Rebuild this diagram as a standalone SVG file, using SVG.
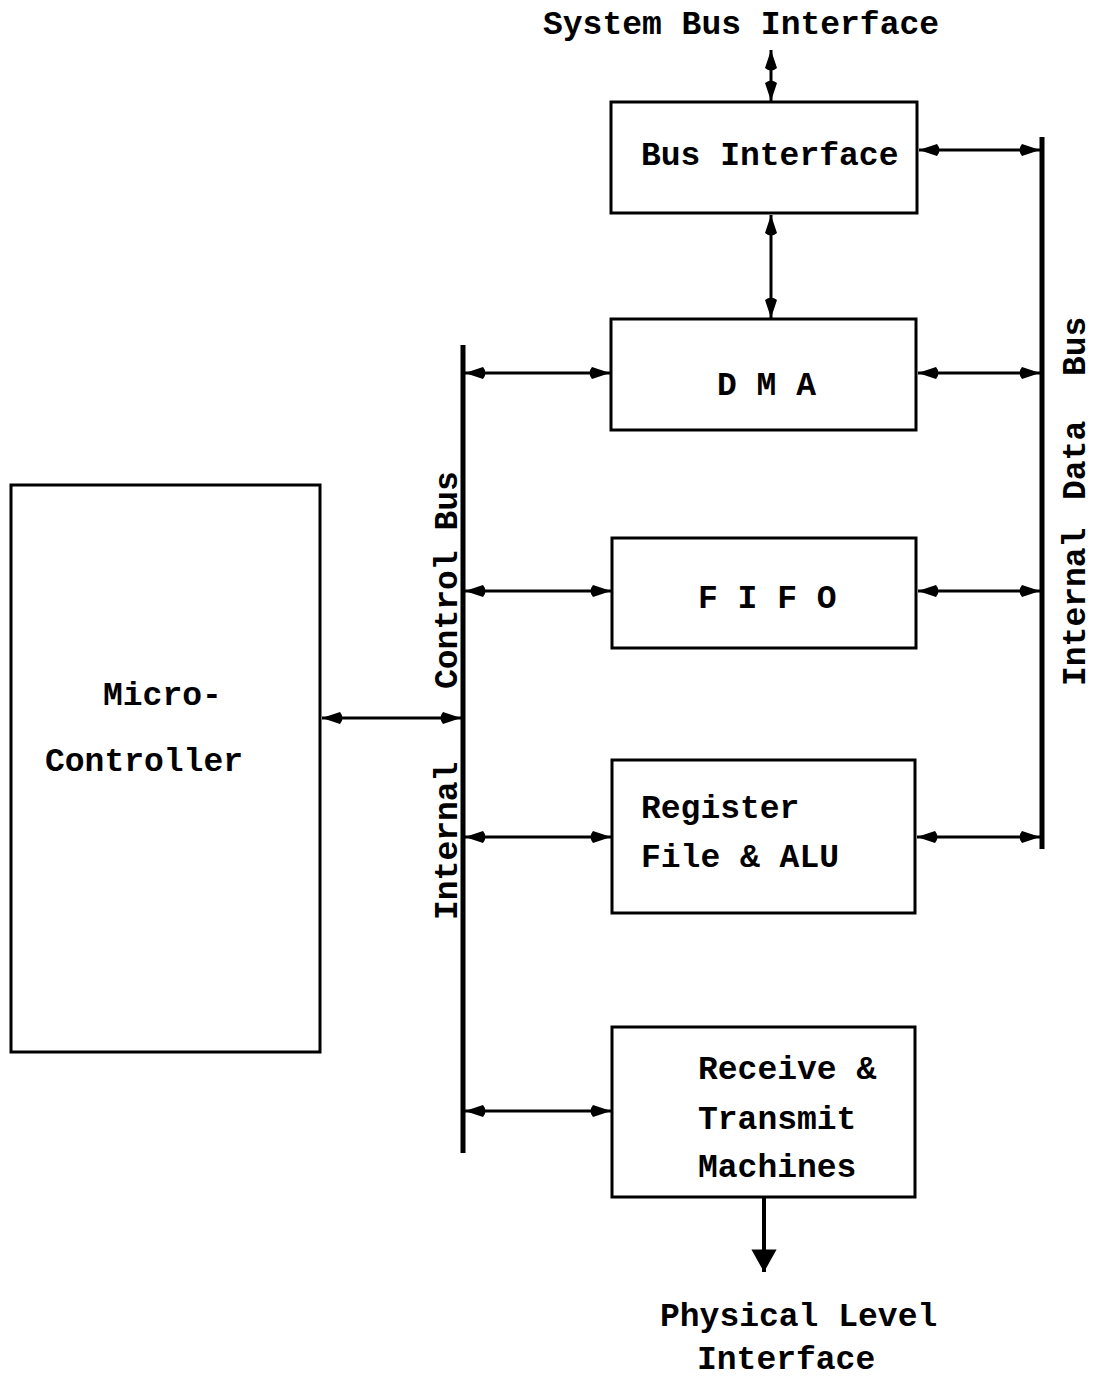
<svg xmlns="http://www.w3.org/2000/svg" width="1095" height="1380" viewBox="0 0 1095 1380">
<defs>
<style>
.box{fill:none;stroke:#000;stroke-width:3}
.bus{stroke:#000;stroke-width:5;fill:none}
.ln{stroke:#000;stroke-width:3;fill:none;marker-start:url(#ah);marker-end:url(#ah)}
.t{font-family:"Liberation Mono","DejaVu Sans Mono",monospace;font-size:33px;font-weight:bold;fill:#000}
</style>
<marker id="ah" viewBox="0 0 22 15" refX="22" refY="7.5" markerWidth="22" markerHeight="15" markerUnits="userSpaceOnUse" orient="auto-start-reverse">
<path d="M22,7.5 L4,1.5 Q-1,7.5 4,13.5 Z" fill="#000"/>
</marker>
<marker id="ahb" viewBox="0 0 16 20" refX="16" refY="10" markerWidth="24" markerHeight="28" markerUnits="userSpaceOnUse" orient="auto">
<path d="M16,10 L0,1 L0,19 Z" fill="#000"/>
</marker>
</defs>
<rect width="1095" height="1380" fill="#fff"/>

<g id="connectors">
<line class="bus" x1="463" y1="345" x2="463" y2="1153"/>
<line class="bus" x1="1042" y1="137" x2="1042" y2="849"/>
<line class="ln" x1="771" y1="50" x2="771" y2="101"/>
<line class="ln" x1="771" y1="215" x2="771" y2="318"/>
<line class="ln" x1="919" y1="150" x2="1040" y2="150"/>
<line class="ln" x1="465" y1="373" x2="610" y2="373"/>
<line class="ln" x1="918" y1="373" x2="1040" y2="373"/>
<line class="ln" x1="465" y1="591" x2="611" y2="591"/>
<line class="ln" x1="918" y1="591" x2="1040" y2="591"/>
<line class="ln" x1="322" y1="718" x2="461" y2="718"/>
<line class="ln" x1="465" y1="837" x2="611" y2="837"/>
<line class="ln" x1="917" y1="837" x2="1040" y2="837"/>
<line class="ln" x1="465" y1="1111" x2="611" y2="1111"/>
<line x1="764" y1="1198" x2="764" y2="1272" stroke="#000" stroke-width="4" marker-end="url(#ahb)"/>
</g>

<g id="bus-interface">
<rect class="box" x="611" y="102" width="306" height="111"/>
<text class="t" x="641" y="165">Bus Interface</text>
</g>
<g id="dma">
<rect class="box" x="611" y="319" width="305" height="111"/>
<text class="t" x="717" y="395">D M A</text>
</g>
<g id="fifo">
<rect class="box" x="612" y="538" width="304" height="110"/>
<text class="t" x="698" y="608">F I F O</text>
</g>
<g id="register-file">
<rect class="box" x="612" y="760" width="303" height="153"/>
<text class="t" x="641" y="818">Register</text>
<text class="t" x="641" y="867">File &amp; ALU</text>
</g>
<g id="receive-transmit">
<rect class="box" x="612" y="1027" width="303" height="170"/>
<text class="t" x="698" y="1079">Receive &amp;</text>
<text class="t" x="698" y="1129">Transmit</text>
<text class="t" x="698" y="1177">Machines</text>
</g>
<g id="micro-controller">
<rect class="box" x="11" y="485" width="309" height="567"/>
<text class="t" x="103" y="705">Micro-</text>
<text class="t" x="45" y="771">Controller</text>
</g>

<g id="labels">
<text class="t" x="543" y="34">System Bus Interface</text>
<text class="t" x="660" y="1326">Physical Level</text>
<text class="t" x="697" y="1369">Interface</text>
<text class="t" transform="translate(457,920) rotate(-90)">Internal</text>
<text class="t" transform="translate(457,689) rotate(-90)">Control Bus</text>
<text class="t" transform="translate(1085,686) rotate(-90)">Internal</text>
<text class="t" transform="translate(1085,500) rotate(-90)">Data</text>
<text class="t" transform="translate(1085,376) rotate(-90)">Bus</text>
</g>
</svg>
